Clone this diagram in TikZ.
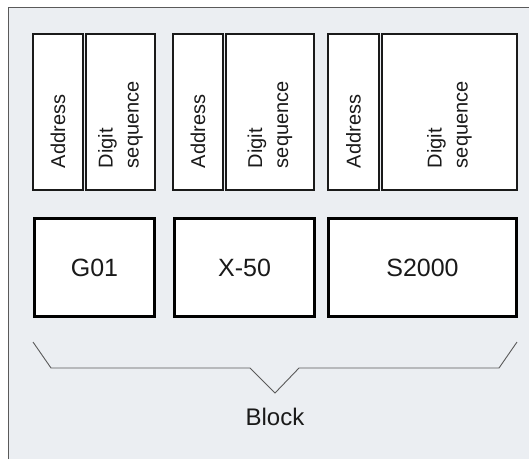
\documentclass[tikz,border=0pt]{standalone}
\usepackage{fontspec}
\setmainfont{Liberation Sans}
\definecolor{bgpanel}{HTML}{EBEEF2}
\definecolor{framegray}{HTML}{5A5A5A}
\definecolor{inkdark}{HTML}{1A1A1A}
\begin{document}
\begin{tikzpicture}[x=1pt,y=-1pt,
  topbox/.style={draw=inkdark, fill=white, line width=1.4pt, rotate=90,
    minimum width=156, text width=112, inner xsep=22, align=left,
    text=inkdark, font=\fontsize{20}{26}\selectfont},
  wordbox/.style={draw=black, fill=white, line width=3pt, minimum height=98,
    text=inkdark, font=\fontsize{25}{30}\selectfont},
  bracket/.style={draw=framegray, line width=0.9pt}]
\useasboundingbox (0,0) rectangle (529,459);
% panel
\fill[bgpanel] (8,7) rectangle (529,459);
\draw[framegray, line width=1pt] (8,459) -- (8,7) -- (529,7);
% top boxes
\node[topbox, minimum height=50] (a1) at (58,112) {Address};
\node[topbox, minimum height=69] (d1) at (120.5,112) {Digit\\sequence};
\node[topbox, minimum height=50] (a2) at (198,112) {Address};
\node[topbox, minimum height=88] (d2) at (270,112) {Digit\\sequence};
\node[topbox, minimum height=51] (a3) at (353.5,112) {Address};
\node[topbox, minimum height=135] (d3) at (449.5,112) {Digit\\sequence};
% word boxes
\node[wordbox, minimum width=120] (w1) at (94.5,267.5) {G01};
\node[wordbox, minimum width=140] (w2) at (244.5,267.5) {X-50};
\node[wordbox, minimum width=188] (w3) at (422.5,267.5) {S2000};
% bracket
\coordinate (b0) at (33,342);
\coordinate (b1) at (51,368);
\coordinate (b2) at (250,368);
\coordinate (tip) at (275,393);
\coordinate (b3) at (299,368);
\coordinate (b4) at (499,368);
\coordinate (b5) at (517,342);
\draw[bracket] (b0) -- (b1) -- (b2) -- (tip) -- (b3) -- (b4) -- (b5);
\node[text=inkdark, font=\fontsize{24}{28}\selectfont] (blk) at (275,417) {Block};
\end{tikzpicture}
\end{document}
